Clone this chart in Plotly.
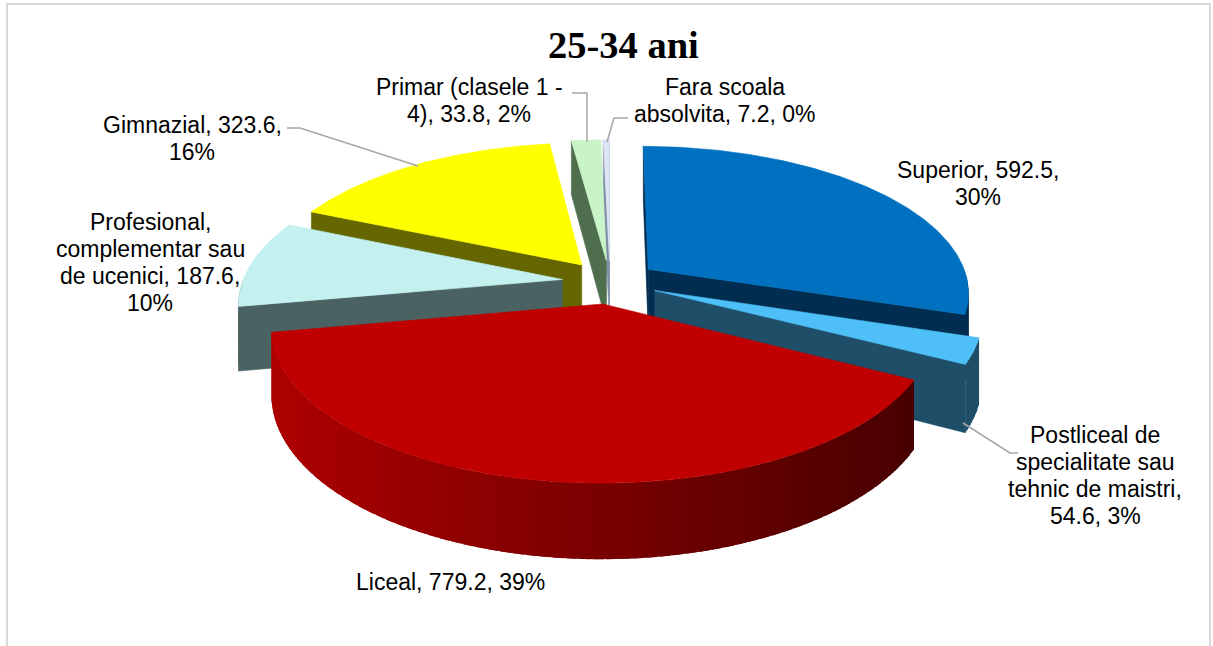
import math
import plotly.graph_objects as go

# ---------------- data ----------------
title_text = "25-34 ani"
categories = ["Superior", "Postliceal de specialitate sau tehnic de maistri", "Liceal",
              "Profesional, complementar sau de ucenici", "Gimnazial",
              "Primar (clasele 1 - 4)", "Fara scoala absolvita"]
values = [592.5, 54.6, 779.2, 187.6, 323.6, 33.8, 7.2]
percents = [30, 3, 39, 10, 16, 2, 0]
# label wording and line wrapping as in the reference ("|" = new line)
label_formats = [
    "Superior, {v},|{p}%",
    "Postliceal de|specialitate sau|tehnic de maistri,|{v}, {p}%",
    "Liceal, {v}, {p}%",
    "Profesional,|complementar sau|de ucenici, {v},|{p}%",
    "Gimnazial, {v},|{p}%",
    "Primar (clasele 1 -|4), {v}, {p}%",
    "Fara scoala|absolvita, {v}, {p}%",
]

# ---------------- style ----------------
top_colors = ["#0070C0", "#4FC0F7", "#C00000", "#C4F0F0", "#FFFF00", "#C8F4C8", "#DDE5F5"]
side_left = [(1, 45, 80), (31, 78, 104), (172, 0, 0), (74, 98, 98), (102, 102, 0), (78, 110, 78), (128, 144, 168)]
side_right = [(1, 45, 80), (31, 78, 104), (72, 0, 0), (74, 98, 98), (102, 102, 0), (78, 110, 78), (128, 144, 168)]
explode = 0.15
CX, CY = 610, 282         # pie centre (pixels)
A, B, K = 320, 145, 0.15  # horizontal / vertical radius, perspective factor
T = 63                    # thickness
label_pos = [(978, 183), (1095, 475), (450, 582), (150, 262), (192, 138), (469, 100), (725, 100)]
line_gap = 27
font_family = "Liberation Sans, Arial, sans-serif"

W, H = 1213, 646


def proj(u, v, z=0.0):
    s = 1.0 / (1.0 + K * v)
    return CX + A * u * s, CY - B * v * s + z * T * s


def rgb(c):
    return "rgb(%d,%d,%d)" % c


def lerp(c0, c1, t):
    t = min(max(t, 0.0), 1.0)
    return tuple(int(round(a + (b - a) * t)) for a, b in zip(c0, c1))


def area(pts):
    s = 0.0
    for i in range(len(pts)):
        x0, y0 = pts[i]
        x1, y1 = pts[(i + 1) % len(pts)]
        s += x0 * y1 - x1 * y0
    return s


fig = go.Figure()


def add_poly(pts, color, lw=0.6):
    xs = [p[0] for p in pts] + [pts[0][0]]
    ys = [p[1] for p in pts] + [pts[0][1]]
    fig.add_trace(go.Scatter(x=xs, y=ys, mode="lines", fill="toself", fillcolor=color,
                             line=dict(color=color, width=lw), hoverinfo="skip",
                             showlegend=False))


total = sum(values)
slices = []
cum = 0.0
for i, v in enumerate(values):
    a0 = cum / total * 2 * math.pi
    cum += v
    a1 = cum / total * 2 * math.pi
    slices.append((i, a0, a1))

# painter's order: far slices first
slices.sort(key=lambda s: -math.cos((s[1] + s[2]) / 2))

for i, a0, a1 in slices:
    m = (a0 + a1) / 2
    ou, ov = explode * math.sin(m), explode * math.cos(m)
    n = max(3, int(math.degrees(a1 - a0) / 0.7) + 2)
    thetas = [a0 + (a1 - a0) * k / (n - 1) for k in range(n)]

    # radial faces
    for ang, is_start in ((a0, True), (a1, False)):
        pts = [proj(ou, ov, 0), proj(ou + math.sin(ang), ov + math.cos(ang), 0),
               proj(ou + math.sin(ang), ov + math.cos(ang), 1), proj(ou, ov, 1)]
        ar = area(pts)
        if (is_start and ar < 0) or ((not is_start) and ar > 0):
            add_poly(pts, rgb(side_left[i]))

    # outer curved side (front half only), drawn as overlapping strips for a gradient
    lo, hi = max(a0, math.pi / 2), min(a1, 3 * math.pi / 2)
    if hi > lo:
        nn = max(2, int(math.degrees(hi - lo) / 2) + 1)
        step = (hi - lo) / nn
        for k in range(nn):
            t0 = lo + k * step
            t1 = min(hi, t0 + step * 1.8)
            sub = [t0 + (t1 - t0) * j / 5 for j in range(6)]
            top = [proj(ou + math.sin(t), ov + math.cos(t), 0) for t in sub]
            bot = [proj(ou + math.sin(t), ov + math.cos(t), 1) for t in sub]
            xm = proj(ou + math.sin(t0 + step / 2), ov + math.cos(t0 + step / 2))[0]
            col = lerp(side_left[i], side_right[i], (xm - 280) / (915 - 280))
            add_poly(top + bot[::-1], rgb(col), lw=0)

    # top face
    pts = [proj(ou, ov, 0)] + [proj(ou + math.sin(t), ov + math.cos(t), 0) for t in thetas]
    add_poly(pts, top_colors[i])

# ---------------- labels ----------------
annotations = []
for i, fmt in enumerate(label_formats):
    lines = fmt.format(v=values[i], p=percents[i]).split("|")
    cx, cy = label_pos[i]
    nl = len(lines)
    for j, ln in enumerate(lines):
        annotations.append(dict(x=cx, y=cy + (j - (nl - 1) / 2) * line_gap, xref="x", yref="y",
                                text=ln, showarrow=False, xanchor="center", yanchor="middle",
                                font=dict(family=font_family, size=23, color="#000000")))
annotations.append(dict(x=623, y=45, xref="x", yref="y", text="<b>%s</b>" % title_text,
                        showarrow=False, xanchor="center", yanchor="middle",
                        font=dict(family="Liberation Serif, Times New Roman, serif", size=38.5,
                                  color="#000000")))

leader = dict(color="#A6A6A6", width=1.5)
shapes = [
    dict(type="path", xref="x", yref="y", path="M 287 128 L 300 128 L 418 166", line=leader),
    dict(type="path", xref="x", yref="y", path="M 572 93 L 587 93 L 587 142", line=leader),
    dict(type="path", xref="x", yref="y", path="M 628 118 L 614 118 L 607 142", line=leader),
    dict(type="path", xref="x", yref="y", path="M 1018 453 L 1010 453 L 963 423", line=leader),
    dict(type="rect", xref="x", yref="y", x0=7, x1=1210, y0=4, y1=700,
         line=dict(color="#D9D9D9", width=2), fillcolor="rgba(0,0,0,0)", layer="below"),
]

fig.update_layout(
    width=W, height=H,
    margin=dict(l=0, r=0, t=0, b=0),
    paper_bgcolor="white", plot_bgcolor="white",
    xaxis=dict(range=[0, W], visible=False, fixedrange=True),
    yaxis=dict(range=[H, 0], visible=False, fixedrange=True),
    annotations=annotations,
    shapes=shapes,
    showlegend=False,
)

fig.write_html("out.html", config={"displayModeBar": False},
               post_script="document.body.style.margin='0';")
